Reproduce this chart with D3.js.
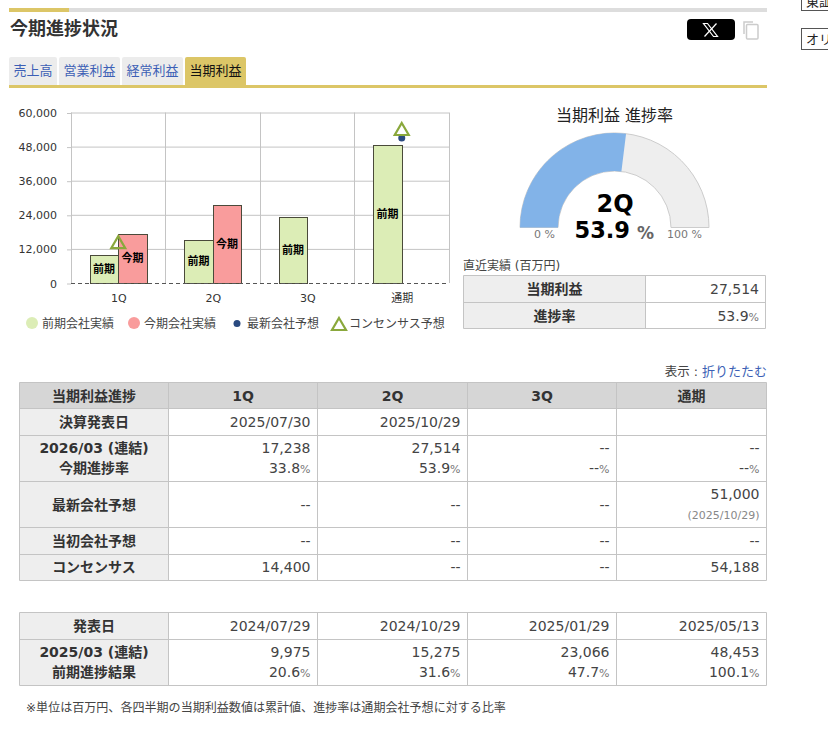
<!DOCTYPE html>
<html lang="ja">
<head>
<meta charset="utf-8">
<script src="https://cdn.jsdelivr.net/npm/d3@7"></script>
<style>
	html, body { margin: 0; padding: 0; background: #fff; overflow: hidden; }
	svg { display: block; }
	text { font-family: "DejaVu Sans", "Noto Sans CJK JP", sans-serif; }
	.axis text { fill: #333; font-size: 11px; }
</style>
</head>
<body>
<svg id="page" width="828" height="737"></svg>
<script>
// chart values
var tabs = ['売上高', '営業利益', '経常利益', '当期利益'];
var quarters = ['1Q', '2Q', '3Q', '通期'];
var yTicks = [0, 12000, 24000, 36000, 48000, 60000];
var prevResults = [9975, 15275, 23066, 48453];
var currResults = [17238, 27514, null, null];
var companyForecast = [null, null, null, 51000];
var consensus = [14400, null, null, 54188];
var legendLabels = ['前期会社実績', '今期会社実績', '最新会社予想', 'コンセンサス予想'];

var progress = 53.9;
var progressQuarter = '2Q';

// table values
var currDates = ['2025/07/30', '2025/10/29', '', ''];
var currRates = [33.8, 53.9, null, null];
var initialForecast = [null, null, null, null];
var forecastDate = '(2025/10/29)';
var prevDates = ['2024/07/29', '2024/10/29', '2025/01/29', '2025/05/13'];
var prevRates = [20.6, 31.6, 47.7, 100.1];

var svg = d3.select('#page');
var fmt = d3.format(',');
var inkColor = '#444';
var lineColor = '#c4c4c4';

function put(parent, x, y, str, size, opts) {
	opts = opts || {};
	return parent.append('text')
		.attr('x', x)
		.attr('y', y)
		.attr('dy', '0.36em')
		.attr('text-anchor', opts.anchor || 'start')
		.attr('font-size', size)
		.attr('font-weight', opts.bold ? 'bold' : 'normal')
		.attr('font-family', opts.family || null)
		.attr('fill', opts.fill || inkColor)
		.text(str);
}

function box(parent, x0, y0, x1, y1, fill, stroke) {
	return parent.append('rect')
		.attr('x', x0).attr('y', y0)
		.attr('width', x1 - x0).attr('height', y1 - y0)
		.attr('fill', fill)
		.attr('stroke', stroke || 'none');
}

function numOrDash(v) {
	return v === null ? '--' : fmt(v);
}

function rateCell(parent, xRight, y, v) {
	var t = put(parent, xRight, y, v === null ? '--' : v.toFixed(1), 14, {anchor: 'end'});
	t.append('tspan').attr('font-size', 11).attr('fill', '#777').text('%');
}

////////////
// page header

box(svg, 69, 8, 767, 12, '#dddddd');
box(svg, 9, 8, 69, 12, '#dcc667');
put(svg, 10, 28.5, '今期進捗状況', 18, {bold: true, fill: '#333'});

var tabEdges = [[9, 57], [59, 120], [122, 183], [185, 246]];
tabs.forEach(function(name, i) {
	var active = i === tabs.length - 1;
	svg.append('path')
		.attr('d', 'M' + tabEdges[i][0] + ',86V59q0,-2 2,-2H' + (tabEdges[i][1] - 2) + 'q2,0 2,2V86Z')
		.attr('fill', active ? '#dcc667' : '#ececec');
	put(svg, (tabEdges[i][0] + tabEdges[i][1]) / 2, 70.5, name, 13, {anchor: 'middle', fill: active ? '#111' : '#3c5fb5'});
});
box(svg, 9, 85, 767, 88, '#dcc667');

// share button and copy icon
svg.append('rect').attr('x', 687).attr('y', 19).attr('width', 48).attr('height', 21).attr('rx', 4).attr('fill', '#000');
svg.append('path')
	.attr('d', 'M703.5,23.5H707.5L717.5,36.5H713.5Z')
	.attr('stroke', '#fff').attr('stroke-width', 1.2).attr('fill', 'none');
svg.append('path')
	.attr('d', 'M716.5,23.5L704.5,36.5')
	.attr('stroke', '#fff').attr('stroke-width', 1.2).attr('fill', 'none');
svg.append('path')
	.attr('d', 'M744,34V22H753')
	.attr('stroke', '#ccc').attr('stroke-width', 1.5).attr('fill', 'none');
svg.append('rect').attr('x', 746.5).attr('y', 24.5).attr('width', 11.5).attr('height', 14.5).attr('rx', 1)
	.attr('stroke', '#ccc').attr('stroke-width', 1.5).attr('fill', '#fff');

// clipped neighbours at the right edge
box(svg, 801.5, -12, 840, 10.5, '#fff', '#555');
put(svg, 806, 1, '東証', 13, {fill: '#222'});
box(svg, 801.5, 28.5, 840, 49.5, '#fff', '#555');
put(svg, 806, 39, 'オリ', 13, {fill: '#222'});

////////////
// bar chart

var plot = {left: 71, right: 449, top: 112.5, bottom: 283};

var x = d3.scaleBand().domain(quarters).range([plot.left, plot.right]);
var xInner = d3.scaleBand().domain(['prev', 'curr']).range([0, x.bandwidth()]).paddingOuter(0.66);
var y = d3.scaleLinear().domain([0, 60000]).range([plot.bottom, plot.top]);

var chart = svg.append('g');

// Grid
chart.append('g').selectAll('line')
	.data(yTicks.slice(1))
	.enter().append('line')
		.attr('x1', plot.left).attr('x2', plot.right)
		.attr('y1', function(d) { return y(d) + 0.5; })
		.attr('y2', function(d) { return y(d) + 0.5; })
		.attr('stroke', lineColor);

chart.append('g').selectAll('line')
	.data(quarters)
	.enter().append('line')
		.attr('x1', function(d) { return Math.floor(x(d)) + 0.5; })
		.attr('x2', function(d) { return Math.floor(x(d)) + 0.5; })
		.attr('y1', plot.top).attr('y2', plot.bottom)
		.attr('stroke', lineColor);

chart.append('line')
	.attr('x1', plot.right + 0.5).attr('x2', plot.right + 0.5)
	.attr('y1', plot.top).attr('y2', plot.bottom)
	.attr('stroke', lineColor);

// Axes
var yAxis = d3.axisLeft(y).tickValues(yTicks).tickFormat(fmt).tickSize(4).tickPadding(10);
var gy = chart.append('g').attr('class', 'axis')
	.attr('transform', 'translate(' + plot.left + ',0.5)')
	.call(yAxis);
gy.select('.domain').remove();
gy.selectAll('line').attr('stroke', lineColor);

var xAxis = d3.axisBottom(x).tickSize(0).tickPadding(11);
var gx = chart.append('g').attr('class', 'axis')
	.attr('transform', 'translate(0.5,' + plot.bottom + ')')
	.call(xAxis);
gx.select('.domain').remove();

// Bars
function drawBars(values, key, fill, label) {
	var rows = quarters.map(function(q, i) { return {q: q, v: values[i]}; })
		.filter(function(d) { return d.v !== null; });

	// Snap the edges so the outline stays crisp
	function left(d) { return Math.round(x(d.q) + xInner(key)) + 0.5; }
	function right(d) { return Math.round(x(d.q) + xInner(key) + xInner.bandwidth()) + 0.5; }

	chart.append('g').selectAll('rect')
		.data(rows)
		.enter().append('rect')
			.attr('x', left)
			.attr('y', function(d) { return Math.round(y(d.v)) + 0.5; })
			.attr('width', function(d) { return right(d) - left(d); })
			.attr('height', function(d) { return y(0) - Math.round(y(d.v)); })
			.attr('fill', fill)
			.attr('stroke', '#4a4a3a')
			.attr('stroke-width', 1);

	chart.append('g').selectAll('text')
		.data(rows)
		.enter().append('text')
			.attr('x', function(d) { return x(d.q) + xInner(key) + xInner.bandwidth() / 2; })
			.attr('y', function(d) { return y(d.v / 2); })
			.attr('dy', '0.36em')
			.attr('text-anchor', 'middle')
			.attr('font-size', 11)
			.attr('font-weight', 'bold')
			.attr('fill', '#000')
			.text(label);
}

drawBars(prevResults, 'prev', '#dcedb6', '前期');
drawBars(currResults, 'curr', '#f99c9c', '今期');

// zero line
chart.append('line')
	.attr('x1', plot.left).attr('x2', plot.right)
	.attr('y1', y(0) + 0.5).attr('y2', y(0) + 0.5)
	.attr('stroke', '#555')
	.attr('stroke-dasharray', '4,3');

// Forecast markers
var triangle = 'M0,-6L7,6H-7Z';

chart.append('g').selectAll('circle')
	.data(quarters.map(function(q, i) { return {q: q, v: companyForecast[i]}; }).filter(function(d) { return d.v !== null; }))
	.enter().append('circle')
		.attr('cx', function(d) { return x(d.q) + x.bandwidth() / 2; })
		.attr('cy', function(d) { return y(d.v); })
		.attr('r', 3.5)
		.attr('fill', '#2a4a80');

chart.append('g').selectAll('path')
	.data(quarters.map(function(q, i) { return {q: q, v: consensus[i]}; }).filter(function(d) { return d.v !== null; }))
	.enter().append('path')
		.attr('d', triangle)
		.attr('transform', function(d) { return 'translate(' + (x(d.q) + x.bandwidth() / 2) + ',' + y(d.v) + ')'; })
		.attr('fill', 'none')
		.attr('stroke', '#8aa83c')
		.attr('stroke-width', 2.2);

// Legend
var legendX = [42, 144, 247, 349];
var legend = svg.append('g');
legendLabels.forEach(function(name, i) {
	put(legend, legendX[i], 323.5, name, 12);
});
legend.append('circle').attr('cx', 32).attr('cy', 323).attr('r', 6).attr('fill', '#dcedb6');
legend.append('circle').attr('cx', 134).attr('cy', 323).attr('r', 6).attr('fill', '#f99c9c');
legend.append('circle').attr('cx', 237).attr('cy', 323.5).attr('r', 3.5).attr('fill', '#2a4a80');
legend.append('path').attr('d', triangle).attr('transform', 'translate(339,324)')
	.attr('fill', 'none').attr('stroke', '#8aa83c').attr('stroke-width', 2.2);

////////////
// gauge

var gauge = svg.append('g').attr('transform', 'translate(614.5,227.5)');
var angle = d3.scaleLinear().domain([0, 100]).range([-Math.PI / 2, Math.PI / 2]);
var gaugeArc = d3.arc().innerRadius(56.5).outerRadius(94.5);

gauge.append('path')
	.attr('d', gaugeArc({startAngle: angle(0), endAngle: angle(100)}))
	.attr('fill', '#eeeeee')
	.attr('stroke', '#cccccc');
gauge.append('path')
	.attr('d', gaugeArc({startAngle: angle(0), endAngle: angle(progress)}))
	.attr('fill', '#82b3e8');

put(svg, 614.5, 115, tabs[3] + ' 進捗率', 16, {anchor: 'middle', fill: '#222'});
put(svg, 615, 203, progressQuarter, 24, {anchor: 'middle', bold: true, fill: '#000'});
put(svg, 630, 230, progress.toFixed(1), 22.5, {anchor: 'end', bold: true, fill: '#000'});
put(svg, 637, 233, '%', 17, {bold: true, fill: '#666'});
put(svg, 555, 234, '0 %', 11, {anchor: 'end', fill: '#777'});
put(svg, 667, 234, '100 %', 11, {fill: '#777'});

////////////
// tables

function grid(colX, rowY) {
	colX.forEach(function(cx) {
		svg.append('line').attr('x1', cx).attr('x2', cx)
			.attr('y1', rowY[0]).attr('y2', rowY[rowY.length - 1])
			.attr('stroke', lineColor);
	});
	rowY.forEach(function(ry) {
		svg.append('line').attr('x1', colX[0]).attr('x2', colX[colX.length - 1])
			.attr('y1', ry).attr('y2', ry)
			.attr('stroke', lineColor);
	});
}

function rowLabel(cx, cy, str) {
	put(svg, cx, cy, str, 14, {anchor: 'middle', bold: true, fill: '#333'});
}

// latest result
put(svg, 463, 265.5, '直近実績 (百万円)', 12);
box(svg, 463.5, 275.5, 645.5, 328.5, '#eeeeee');
grid([463.5, 645.5, 765.5], [275.5, 302.5, 328.5]);
rowLabel(554.5, 288.5, tabs[3]);
rowLabel(554.5, 315.5, '進捗率');
put(svg, 759, 288.5, fmt(currResults[1]), 14, {anchor: 'end'});
rateCell(svg, 759, 315.5, progress);

// current term table
var colX = [19.5, 168.5, 317.5, 467.5, 616.5, 766.5];
var rowY = [382.5, 408.5, 435.5, 481.5, 527.5, 554.5, 580.5];
var rowNames = ['決算発表日', null, '最新会社予想', '当初会社予想', 'コンセンサス'];

put(svg, 698, 371, '表示 :', 12.5, {anchor: 'end'});
put(svg, 767, 371, '折りたたむ', 13, {anchor: 'end', fill: '#3c5fb5'});

box(svg, 19.5, 382.5, 168.5, 580.5, '#eeeeee');
box(svg, 19.5, 382.5, 766.5, 408.5, '#d6d6d6');
grid(colX, rowY);

rowLabel(94, 395.5, tabs[3] + '進捗');
quarters.forEach(function(q, i) {
	put(svg, (colX[i + 1] + colX[i + 2]) / 2, 395.5, q, 14, {anchor: 'middle', bold: true, fill: '#333', family: '"DejaVu Serif", "Noto Sans CJK JP", serif'});
});

rowLabel(94, 421.5, rowNames[0]);
rowLabel(94, 448, '2026/03 (連結)');
rowLabel(94, 467.5, '今期進捗率');
rowLabel(94, 504.5, rowNames[2]);
rowLabel(94, 540.5, rowNames[3]);
rowLabel(94, 567, rowNames[4]);

quarters.forEach(function(q, i) {
	var right = colX[i + 2] - 7;
	put(svg, right, 421.5, currDates[i], 14, {anchor: 'end'});
	put(svg, right, 448, numOrDash(currResults[i]), 14, {anchor: 'end'});
	rateCell(svg, right, 467.5, currRates[i]);
	if(companyForecast[i] !== null) {
		put(svg, right, 494, fmt(companyForecast[i]), 14, {anchor: 'end'});
		put(svg, right, 515, forecastDate, 11, {anchor: 'end', fill: '#888'});
	}
	else {
		put(svg, right, 504.5, '--', 14, {anchor: 'end'});
	}
	put(svg, right, 540.5, numOrDash(initialForecast[i]), 14, {anchor: 'end'});
	put(svg, right, 567, numOrDash(consensus[i]), 14, {anchor: 'end'});
});

// previous term table
var prevRowY = [612.5, 639.5, 685.5];
box(svg, 19.5, 612.5, 168.5, 685.5, '#eeeeee');
grid(colX, prevRowY);

rowLabel(94, 625.5, '発表日');
rowLabel(94, 652, '2025/03 (連結)');
rowLabel(94, 671.5, '前期進捗結果');

quarters.forEach(function(q, i) {
	var right = colX[i + 2] - 7;
	put(svg, right, 625.5, prevDates[i], 14, {anchor: 'end'});
	put(svg, right, 652, fmt(prevResults[i]), 14, {anchor: 'end'});
	rateCell(svg, right, 671.5, prevRates[i]);
});

put(svg, 26, 707.5, '※単位は百万円、各四半期の' + tabs[3] + '数値は累計値、進捗率は通期会社予想に対する比率', 12.05);
</script>
</body>
</html>
